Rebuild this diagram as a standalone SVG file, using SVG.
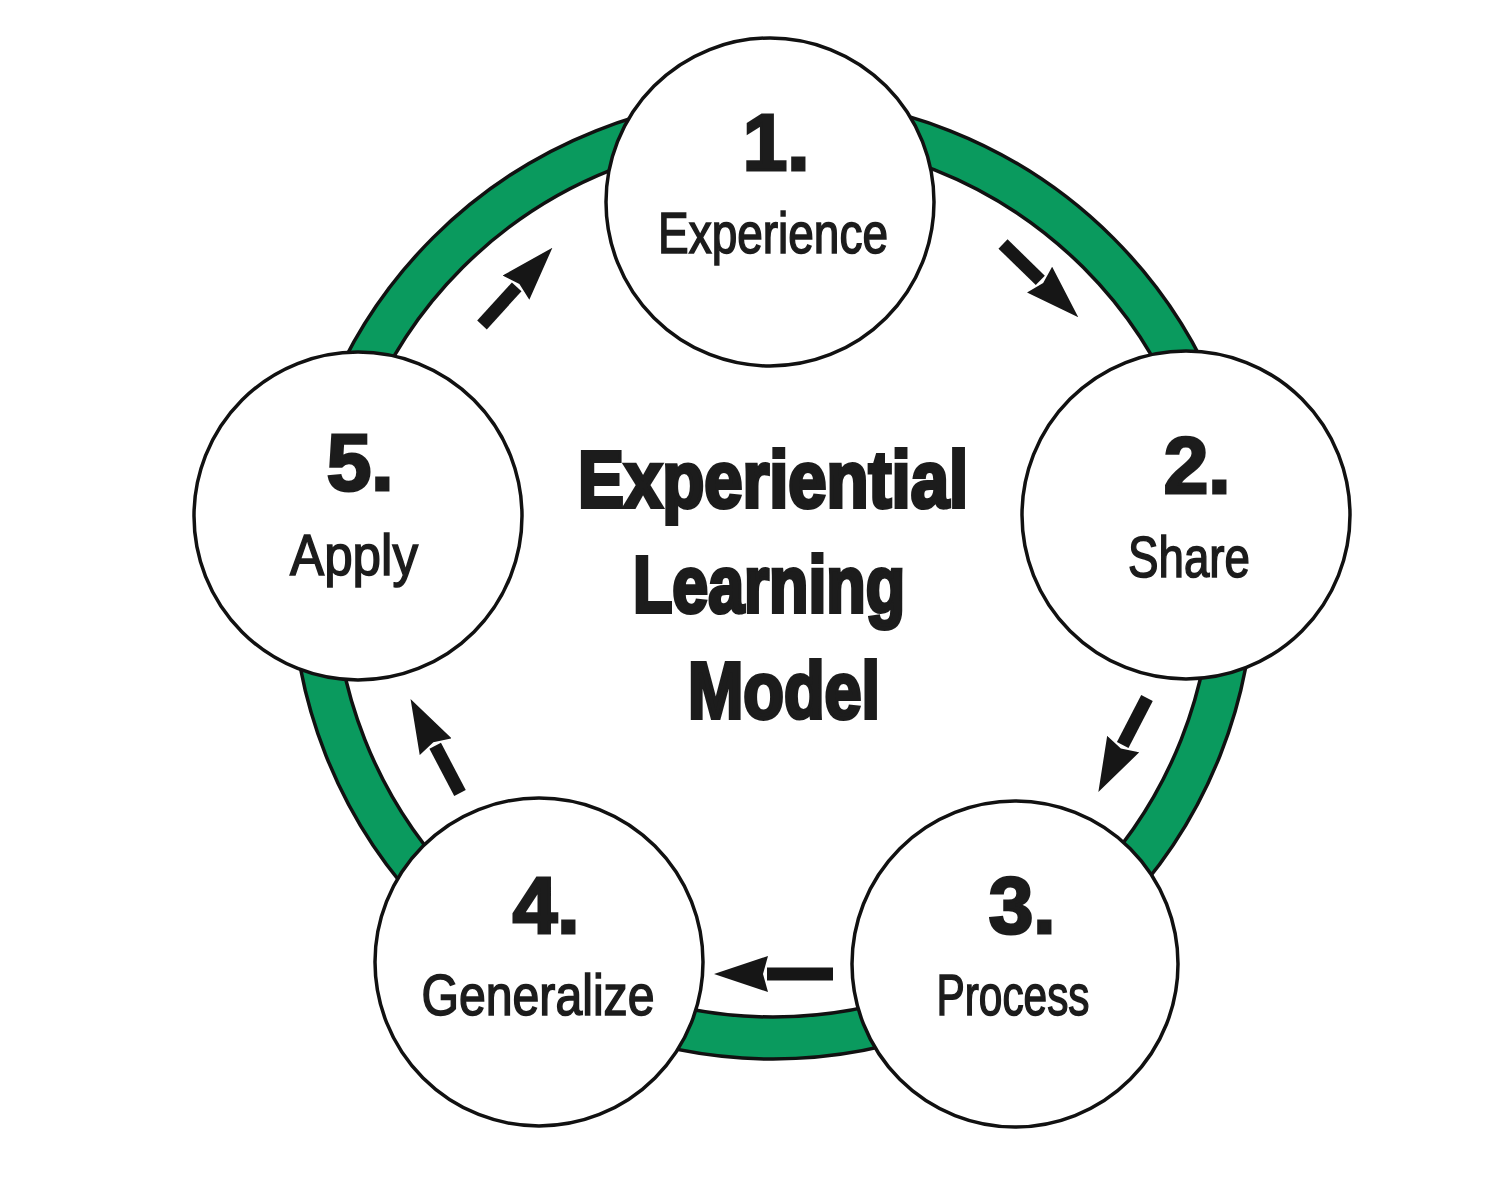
<svg xmlns="http://www.w3.org/2000/svg" width="1500" height="1200" viewBox="0 0 1500 1200">
<style>
.num{font-family:"Liberation Sans",Arial,sans-serif;font-weight:bold;font-size:80px;fill:#1c1c1c;stroke:#1c1c1c;stroke-width:3;text-anchor:middle}
.lbl{font-family:"Liberation Sans",Arial,sans-serif;font-size:57px;fill:#1c1c1c;stroke:#1c1c1c;stroke-width:1.6;text-anchor:middle}
.title{font-family:"Liberation Sans",Arial,sans-serif;font-weight:bold;font-size:80px;fill:#1c1c1c;stroke:#1c1c1c;stroke-width:4;text-anchor:middle}
.node{fill:#fff;stroke:#111;stroke-width:3.5}
.arrow{stroke:#161616;stroke-width:13;fill:none;marker-end:url(#head)}
</style>
<defs>
<marker id="head" markerUnits="userSpaceOnUse" markerWidth="54" markerHeight="36" viewBox="0 0 54 36" refX="1" refY="18" orient="auto">
<path d="M0,0 L54,18 L0,36 L5,18 z" fill="#161616"/>
</marker>
</defs>
<rect width="1500" height="1200" fill="#fff"/>
<g id="ring">
<circle cx="773" cy="578" r="460" fill="none" stroke="#0a9a5e" stroke-width="42"/>
<circle cx="773" cy="578" r="481" fill="none" stroke="#111" stroke-width="3.5"/>
<circle cx="773" cy="578" r="439" fill="none" stroke="#111" stroke-width="3.5"/>
</g>
<g id="connectors">
<line class="arrow" x1="1003" y1="244" x2="1040.3" y2="280.3"/>
<line class="arrow" x1="1147" y1="698" x2="1122.7" y2="745"/>
<line class="arrow" x1="833" y1="974" x2="767" y2="974"/>
<line class="arrow" x1="460" y1="793" x2="435.2" y2="745.8"/>
<line class="arrow" x1="482" y1="325" x2="516.7" y2="286.9"/>
</g>
<g id="node1">
<circle class="node" cx="770" cy="202" r="164"/>
<text class="num" x="776" y="170">1.</text>
<text class="lbl" x="773" y="253" textLength="230" lengthAdjust="spacingAndGlyphs">Experience</text>
</g>
<g id="node2">
<circle class="node" cx="1186" cy="515" r="164"/>
<text class="num" x="1197" y="493">2.</text>
<text class="lbl" x="1189" y="577" textLength="122" lengthAdjust="spacingAndGlyphs">Share</text>
</g>
<g id="node3">
<circle class="node" cx="1015" cy="964" r="163"/>
<text class="num" x="1022" y="933">3.</text>
<text class="lbl" x="1013" y="1015" textLength="153" lengthAdjust="spacingAndGlyphs">Process</text>
</g>
<g id="node4">
<circle class="node" cx="539" cy="962" r="164"/>
<text class="num" x="546" y="933">4.</text>
<text class="lbl" x="538" y="1015" textLength="233" lengthAdjust="spacingAndGlyphs">Generalize</text>
</g>
<g id="node5">
<circle class="node" cx="358" cy="516" r="164"/>
<text class="num" x="360" y="490">5.</text>
<text class="lbl" x="354" y="575" textLength="128" lengthAdjust="spacingAndGlyphs">Apply</text>
</g>
<g id="title">
<text class="title" x="773" y="507" textLength="390" lengthAdjust="spacingAndGlyphs">Experiential</text>
<text class="title" x="769" y="612" textLength="272" lengthAdjust="spacingAndGlyphs">Learning</text>
<text class="title" x="784" y="718" textLength="192" lengthAdjust="spacingAndGlyphs">Model</text>
</g>
</svg>
